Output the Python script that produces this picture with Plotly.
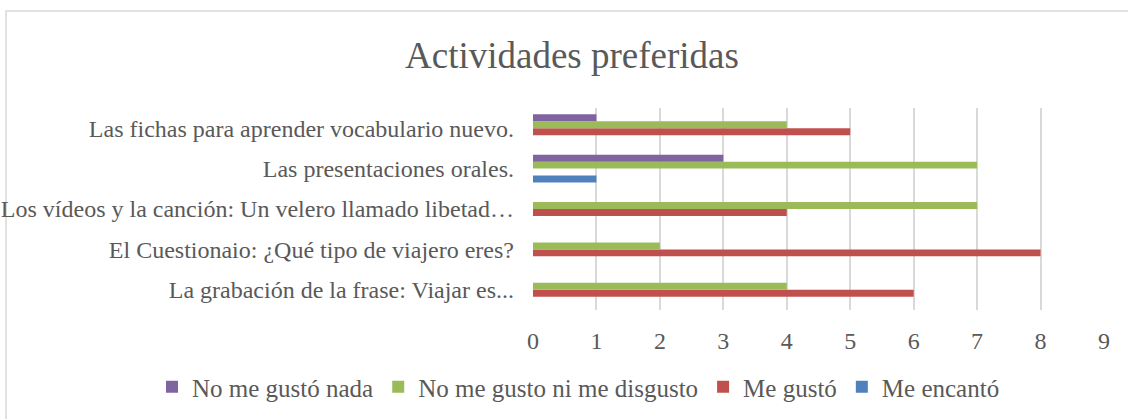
import plotly.graph_objects as go

categories = [
    "La grabación de la frase: Viajar es...",
    "El Cuestionaio: ¿Qué tipo de viajero eres?",
    "Los vídeos y la canción: Un velero llamado libetad…",
    "Las presentaciones orales.",
    "Las fichas para aprender vocabulario nuevo.",
]
me_encanto = [0, 0, 0, 1, 0]
me_gusto = [6, 8, 4, 0, 5]
ni_ni = [4, 2, 7, 7, 4]
nada = [0, 0, 0, 3, 1]
x_ticks = list(range(0, 10))

series = [
    ("Me encantó", me_encanto, "#4F81BD"),
    ("Me gustó", me_gusto, "#C0504D"),
    ("No me gusto ni me disgusto", ni_ni, "#9BBB59"),
    ("No me gustó nada", nada, "#8064A2"),
]

W, H = 1128, 419
L, R, T, B = 533, 24, 108, 109
pw, ph = W - L - R, H - T - B

def px(x):
    return (x - L) / pw

def py(y):
    return (H - B - y) / ph

fig = go.Figure()
for name, vals, color in series:
    fig.add_trace(go.Bar(
        y=categories, x=vals, name=name, orientation="h",
        marker=dict(color=color, line=dict(width=0)),
    ))

font = "Liberation Serif, Times New Roman, serif"
fig.update_layout(
    width=W, height=H,
    margin=dict(l=L, r=R, t=T, b=B, autoexpand=False),
    paper_bgcolor="white", plot_bgcolor="white",
    barmode="group", bargap=0.31, bargroupgap=0,
    font=dict(family=font, color="#595959", size=24),
    title=dict(text="Actividades preferidas", x=572 / W, xref="container", xanchor="center",
               y=1 - 55 / H, yref="container", yanchor="middle",
               font=dict(size=37, family=font, color="#595959")),
    xaxis=dict(range=[0, 9], tickvals=x_ticks, showgrid=True, gridcolor="#D9D9D9",
               gridwidth=1.5, zeroline=False, showline=False, ticks="",
               tickfont=dict(size=24), ticklabelstandoff=14, automargin=False),
    yaxis=dict(showgrid=False, zeroline=False, showline=False, ticks="",
               tickfont=dict(size=24), ticklabelstandoff=18, automargin=False),
    legend=dict(orientation="h", traceorder="reversed", x=px(152), xanchor="left",
                y=py(387), yanchor="middle", font=dict(size=25),
                itemwidth=30, tracegroupgap=0),
    showlegend=True,
    shapes=[dict(type="rect", xref="paper", yref="paper",
                 x0=px(6), x1=px(1135), y0=py(430), y1=py(11),
                 line=dict(color="#D9D9D9", width=1.5), layer="below")],
)
fig.write_html("out.html", config={"displayModeBar": False},
               post_script="document.body.style.margin='0';document.body.style.overflow='hidden';")
